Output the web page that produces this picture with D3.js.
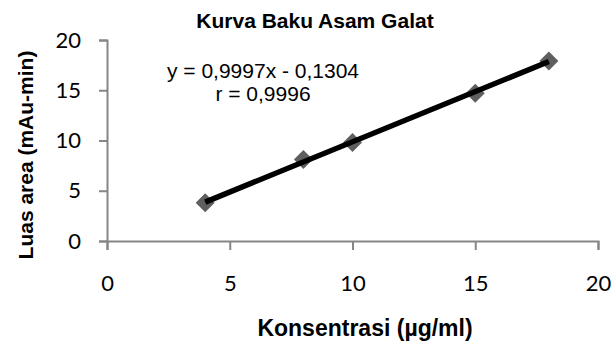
<!DOCTYPE html>
<html>
<head>
<meta charset="utf-8">
<title>Kurva Baku Asam Galat</title>
<style>
  body { margin: 0; background: #fff; }
  svg { display: block; }
  .tick text { font-family: Lato, "Open Sans", sans-serif; font-size: 22px; fill: #000; }
  .tick line, .domain { stroke: #868686; stroke-width: 2; }
</style>
</head>
<body>
<script src="https://cdn.jsdelivr.net/npm/d3@7"></script>
<script>
// kadar standar asam galat vs luas area
const konsentrasi = [4, 8, 10, 15, 18];
const luasArea = [3.8, 8.1, 9.8, 14.7, 17.9];
const xTicks = [0, 5, 10, 15, 20];
const yTicks = [0, 5, 10, 15, 20];
const slope = 0.9997;
const intercept = -0.1304;
const eqLines = ["y = 0,9997x - 0,1304", "r = 0,9996"];

const W = 612, H = 344;
const m = {left: 107, right: 14, top: 40, bottom: 103};

const svg = d3.select("body").append("svg")
  .attr("width", W).attr("height", H);

const x = d3.scaleLinear().domain([0, 20]).range([m.left, W - m.right]);
const y = d3.scaleLinear().domain([0, 20]).range([H - m.bottom, m.top]);

svg.append("g")
  .attr("transform", `translate(0,${H - m.bottom})`)
  .call(d3.axisBottom(x).tickValues(xTicks).tickSize(9).tickPadding(25).tickFormat(d3.format("d")));

svg.append("g")
  .attr("transform", `translate(${m.left},0)`)
  .call(d3.axisLeft(y).tickValues(yTicks).tickSize(8).tickPadding(18).tickFormat(d3.format("d")));

const xs = d3.extent(konsentrasi);

svg.selectAll(".pt")
  .data(konsentrasi)
  .enter().append("path")
  .attr("class", "pt")
  .attr("d", d3.symbol(d3.symbolSquare, 180))
  .attr("transform", (d, i) => `translate(${x(d)},${y(luasArea[i])}) rotate(45)`)
  .attr("fill", "#5f5f5f");

// garis regresi, di atas titik
svg.append("line")
  .attr("x1", x(xs[0])).attr("y1", y(slope * xs[0] + intercept))
  .attr("x2", x(xs[1])).attr("y2", y(slope * xs[1] + intercept))
  .attr("stroke", "#000").attr("stroke-width", 5.5);

svg.append("text")
  .attr("x", 315).attr("y", 28)
  .attr("text-anchor", "middle")
  .style("font", "bold 21px Arial, 'Liberation Sans', sans-serif")
  .text("Kurva Baku Asam Galat");

svg.selectAll(".eq")
  .data(eqLines)
  .enter().append("text")
  .attr("x", 263).attr("y", (d, i) => 78 + i * 23)
  .attr("text-anchor", "middle")
  .style("font", "21px Arial, 'Liberation Sans', sans-serif")
  .text(d => d);

svg.append("text")
  .attr("x", 365).attr("y", 336)
  .attr("text-anchor", "middle")
  .style("font", "bold 23px Arial, 'Liberation Sans', sans-serif")
  .text("Konsentrasi (µg/ml)");

svg.append("text")
  .attr("transform", "translate(33,155) rotate(-90)")
  .attr("text-anchor", "middle")
  .style("font", "bold 21px Arial, 'Liberation Sans', sans-serif")
  .text("Luas area (mAu-min)");
</script>
</body>
</html>
